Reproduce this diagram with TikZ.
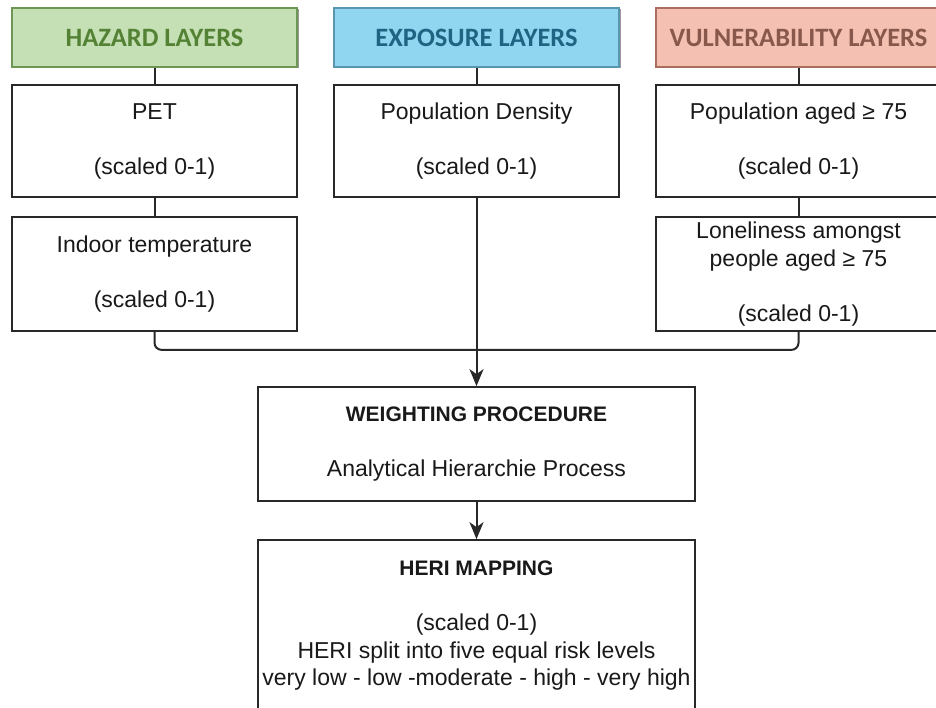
\documentclass[tikz,border=0pt]{standalone}
\usepackage{fontspec}
\setmainfont{Liberation Sans}
\newfontfamily\hdrfont{Carlito}
\usetikzlibrary{arrows.meta,shadows}
\definecolor{hzfill}{RGB}{197,224,180}
\definecolor{hzdraw}{RGB}{110,150,85}
\definecolor{hztext}{RGB}{84,130,53}
\definecolor{exfill}{RGB}{145,214,240}
\definecolor{exdraw}{RGB}{90,150,175}
\definecolor{extext}{RGB}{31,100,130}
\definecolor{vufill}{RGB}{244,192,177}
\definecolor{vudraw}{RGB}{170,110,95}
\definecolor{vutext}{RGB}{135,88,75}
\definecolor{linec}{RGB}{40,40,40}
\tikzset{
  box/.style={draw=linec, line width=1.7pt, fill=white, align=center, text=black!90,
    font=\fontsize{23pt}{27.5pt}\selectfont, inner sep=0pt},
  hdr/.style={line width=1.4pt, minimum width=285pt, minimum height=59pt, inner sep=0pt,
    font=\hdrfont\bfseries\fontsize{26.5pt}{30pt}\selectfont,
    drop shadow={shadow xshift=1.5pt, shadow yshift=-1.5pt, fill=black!40, opacity=1}},
  conn/.style={draw=linec, line width=2pt},
  arr/.style={conn, -{Stealth[length=17pt,width=14pt,inset=5pt]}}
}
\newcommand{\bt}[1]{{\fontsize{21pt}{27.5pt}\selectfont\bfseries #1}}
\begin{document}
\begin{tikzpicture}[x=1pt,y=-1pt]
\useasboundingbox (0,0) rectangle (936,708);
\clip (0,0) rectangle (936,708);
% headers
\node[hdr, draw=hzdraw, fill=hzfill, text=hztext] (hz) at (154.5,37.5) {HAZARD LAYERS};
\node[hdr, draw=exdraw, fill=exfill, text=extext] (ex) at (476.5,37.5) {EXPOSURE LAYERS};
\node[hdr, draw=vudraw, fill=vufill, text=vutext] (vu) at (798.5,37.5) {VULNERABILITY LAYERS};
% layer boxes
\node[box, minimum width=285pt, minimum height=112pt] (pet) at (154.5,141) {PET\\[27.5pt](scaled 0-1)};
\node[box, minimum width=285pt, minimum height=114pt] (indoor) at (154.5,274) {Indoor temperature\\[27.5pt](scaled 0-1)};
\node[box, minimum width=285pt, minimum height=112pt] (popd) at (476.5,141) {Population Density\\[27.5pt](scaled 0-1)};
\node[box, minimum width=285pt, minimum height=112pt] (pop75) at (798.5,141) {Population aged ≥ 75\\[27.5pt](scaled 0-1)};
\node[box, minimum width=285pt, minimum height=114pt] (lonely) at (798.5,274) {Loneliness amongst\\people aged ≥ 75\\[27.5pt](scaled 0-1)};
% process boxes
\node[box, minimum width=437pt, minimum height=114pt] (weight) at (476.5,444) {\bt{WEIGHTING PROCEDURE}\\[27.5pt]Analytical Hierarchie Process};
\node[box, minimum width=437pt, minimum height=172pt] (heri) at (476.5,626) {\bt{HERI MAPPING}\\[27.5pt](scaled 0-1)\\HERI split into five equal risk levels\\very low - low -moderate - high - very high};
% connectors
\draw[conn] (hz.south) -- (pet.north);
\draw[conn] (pet.south) -- (indoor.north);
\draw[conn] (ex.south) -- (popd.north);
\draw[conn] (vu.south) -- (pop75.north);
\draw[conn] (pop75.south) -- (lonely.north);
\draw[conn, rounded corners=7pt] (indoor.south) -- ++(0,18) -| (lonely.south);
\draw[arr] (popd.south) -- (weight.north);
\draw[arr] (weight.south) -- (heri.north);
\end{tikzpicture}
\end{document}
